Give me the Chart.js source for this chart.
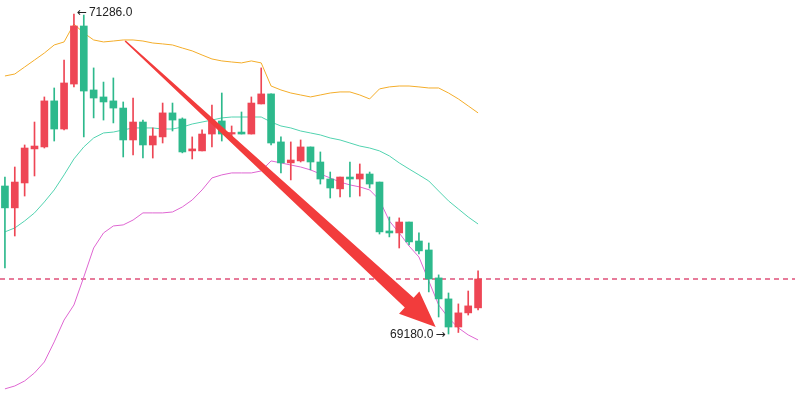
<!DOCTYPE html>
<html>
<head>
<meta charset="utf-8">
<script src="https://cdn.jsdelivr.net/npm/chart.js@4.4.1/dist/chart.umd.min.js"></script>
<style>
  html, body { margin: 0; padding: 0; background: #fff; }
  #wrap { width: 795px; height: 415px; position: relative; }
</style>
</head>
<body>
<div id="wrap"><canvas id="grafico"></canvas></div>
<script>
/* ── dados das velas ── */
const opens  = [70154, 70010, 70174, 70398, 70411, 70714, 70529, 70825, 71207, 70786,
                70740, 70714, 70667, 70457, 70575, 70424, 70477, 70635, 70595, 70385,
                70385, 70496, 70582, 70496, 70509, 70496, 70694, 70760, 70444, 70306,
                70319, 70411, 70312, 70200, 70135, 70213, 70200, 70233, 70180, 69858,
                69845, 69917, 69792, 69733, 69549, 69411, 69226, 69319, 69352];
const closes = [70010, 70180, 70404, 70417, 70714, 70529, 70832, 71207, 70779, 70733,
                70707, 70667, 70457, 70575, 70424, 70483, 70635, 70588, 70378, 70398,
                70496, 70582, 70496, 70503, 70496, 70700, 70760, 70437, 70306, 70325,
                70411, 70312, 70200, 70141, 70213, 70200, 70233, 70167, 69852, 69845,
                69917, 69786, 69727, 69542, 69411, 69226, 69319, 69365, 69542];
const highs  = [70213, 70279, 70424, 70575, 70740, 70799, 70983, 71286, 71279, 70931,
                70838, 70865, 70707, 70733, 70588, 70536, 70700, 70700, 70602, 70477,
                70523, 70687, 70766, 70549, 70641, 70740, 70931, 70760, 70477, 70444,
                70457, 70411, 70378, 70246, 70213, 70312, 70299, 70246, 70180, 69950,
                69944, 69917, 69845, 69779, 69569, 69450, 69378, 69463, 69595];
const lows   = [69615, 69825, 70088, 70220, 70404, 70450, 70523, 70806, 70477, 70602,
                70588, 70569, 70345, 70358, 70338, 70338, 70437, 70516, 70372, 70332,
                70385, 70411, 70450, 70470, 70496, 70496, 70694, 70424, 70240, 70194,
                70312, 70260, 70167, 70075, 70082, 70082, 70088, 70141, 69838, 69819,
                69746, 69766, 69707, 69457, 69292, 69180, 69190, 69305, 69338];

/* ── bandas de Bollinger ── */
const bollUpper = [70878, 70891, 70937, 70983, 71029, 71082, 71102, 71220, 71161, 71115,
                   71102, 71108, 71115, 71115, 71108, 71095, 71089, 71082, 71062, 71043,
                   71016, 70990, 70977, 70970, 70964, 70977, 70964, 70812, 70786, 70766,
                   70753, 70740, 70753, 70766, 70773, 70773, 70753, 70727, 70793, 70806,
                   70812, 70812, 70806, 70799, 70799, 70766, 70727, 70681, 70635];
const bollMid   = [69852, 69878, 69924, 69977, 70049, 70128, 70227, 70332, 70411, 70470,
                   70503, 70509, 70523, 70536, 70536, 70536, 70529, 70529, 70542, 70562,
                   70575, 70588, 70602, 70608, 70608, 70608, 70608, 70575, 70549, 70536,
                   70516, 70503, 70490, 70470, 70457, 70437, 70417, 70404, 70385, 70352,
                   70306, 70266, 70227, 70187, 70121, 70056, 70003, 69950, 69904];
const bollLower = [68819, 68838, 68871, 68924, 68996, 69128, 69272, 69371, 69555, 69746,
                   69845, 69891, 69898, 69930, 69977, 69977, 69977, 69983, 70016, 70062,
                   70128, 70207, 70227, 70240, 70240, 70240, 70253, 70319, 70306, 70292,
                   70279, 70260, 70233, 70207, 70180, 70161, 70148, 70128, 70062, 69924,
                   69845, 69759, 69687, 69529, 69371, 69286, 69220, 69174, 69141];

const labels = opens.map((_, i) => String(i + 1));
const lastPrice = closes[closes.length - 1];
const yMin = 68647;
const yMax = 71378;

// seta vermelha (índice da vela, preço)
const arrowFrom = { i: 12.2, price: 71108 };
const arrowTo   = { i: 43.7, price: 69226 };

const UP = '#ee4655';
const DOWN = '#2db98c';
const cores = opens.map((o, i) => closes[i] >= o ? UP : DOWN);

const extrasPlugin = {
  id: 'extras',
  beforeDatasetsDraw(chart) {
    const { ctx } = chart;
    const y = Math.round(chart.scales.y.getPixelForValue(lastPrice));
    ctx.save();
    ctx.strokeStyle = '#e0507a';
    ctx.lineWidth = 1.5;
    ctx.setLineDash([5, 4]);
    ctx.beginPath();
    ctx.moveTo(0, y);
    ctx.lineTo(chart.width, y);
    ctx.stroke();
    ctx.restore();
  },
  afterDatasetsDraw(chart) {
    const { ctx } = chart;
    const xs = chart.scales.x, ys = chart.scales.y;

    // seta
    const x0 = xs.getPixelForValue(arrowFrom.i), y0 = ys.getPixelForValue(arrowFrom.price);
    const x1 = xs.getPixelForValue(arrowTo.i), y1 = ys.getPixelForValue(arrowTo.price);
    const len = Math.hypot(x1 - x0, y1 - y0);
    const ux = (x1 - x0) / len, uy = (y1 - y0) / len;
    const nx = -uy, ny = ux;
    const headLen = 36, headW = 15, w0 = 0.8, w1 = 6.5;
    const bx = x1 - ux * headLen, by = y1 - uy * headLen;
    ctx.save();
    ctx.fillStyle = '#f23c3c';
    ctx.beginPath();
    ctx.moveTo(x0 + nx * w0, y0 + ny * w0);
    ctx.lineTo(bx + nx * w1, by + ny * w1);
    ctx.lineTo(bx + nx * headW, by + ny * headW);
    ctx.lineTo(x1, y1);
    ctx.lineTo(bx - nx * headW, by - ny * headW);
    ctx.lineTo(bx - nx * w1, by - ny * w1);
    ctx.lineTo(x0 - nx * w0, y0 - ny * w0);
    ctx.closePath();
    ctx.fill();

    // rótulos de máxima e mínima
    const maxV = Math.max(...highs), minV = Math.min(...lows);
    const iMax = highs.indexOf(maxV), iMin = lows.indexOf(minV);
    const xMax = xs.getPixelForValue(iMax), yTop = ys.getPixelForValue(maxV) - 1;
    const xMin = xs.getPixelForValue(iMin), yBot = ys.getPixelForValue(minV) + 1;
    ctx.fillStyle = '#222';
    ctx.textBaseline = 'middle';
    ctx.textAlign = 'left';
    ctx.font = '12px "DejaVu Sans", sans-serif';
    ctx.fillText('←', xMax + 3, yTop);
    ctx.font = '12px "Liberation Sans", Arial, sans-serif';
    ctx.fillText(maxV.toFixed(1), xMax + 15, yTop);
    ctx.textAlign = 'right';
    ctx.font = '12px "DejaVu Sans", sans-serif';
    ctx.fillText('→', xMin - 3, yBot);
    ctx.font = '12px "Liberation Sans", Arial, sans-serif';
    ctx.fillText(minV.toFixed(1), xMin - 15, yBot);
    ctx.restore();
  }
};

const linha = (data, cor) => ({
  type: 'line',
  data,
  borderColor: cor,
  borderWidth: 1,
  pointRadius: 0,
  tension: 0,
  fill: false,
  order: 3
});

new Chart(document.getElementById('grafico'), {
  type: 'bar',
  data: {
    labels,
    datasets: [
      linha(bollUpper, '#f4ad2a'),
      linha(bollMid, '#52d3b0'),
      linha(bollLower, '#df66d2'),
      {
        label: 'pavio',
        data: lows.map((l, i) => [l, highs[i]]),
        backgroundColor: cores,
        barThickness: 1,
        grouped: false,
        borderSkipped: false,
        order: 2
      },
      {
        label: 'corpo',
        data: opens.map((o, i) => [o, closes[i]]),
        backgroundColor: cores,
        barThickness: 7,
        minBarLength: 1.5,
        grouped: false,
        borderSkipped: false,
        order: 1
      }
    ]
  },
  options: {
    responsive: true,
    maintainAspectRatio: false,
    animation: false,
    devicePixelRatio: 1,
    layout: { padding: { left: 0, right: 312, top: 0, bottom: 0 } },
    plugins: { legend: { display: false }, tooltip: { enabled: false } },
    scales: {
      x: { display: false, offset: true },
      y: { display: false, min: yMin, max: yMax }
    }
  },
  plugins: [extrasPlugin]
});
</script>
</body>
</html>
